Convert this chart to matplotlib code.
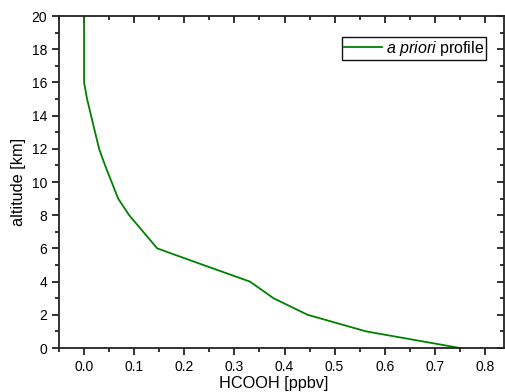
import matplotlib
matplotlib.use("Agg")
import matplotlib.pyplot as plt
from matplotlib.ticker import MultipleLocator

plt.rcParams['font.family'] = ['Liberation Sans', 'DejaVu Sans']
plt.rcParams['mathtext.fontset'] = 'custom'
plt.rcParams['mathtext.it'] = 'Liberation Sans:italic'
plt.rcParams['mathtext.rm'] = 'Liberation Sans'

# a priori profile
altitude = [0, 1, 2, 3, 4, 5, 6, 7, 8, 9, 10,
            11, 12, 13, 14, 15, 16, 17, 18, 19, 20]
hcooh = [0.750, 0.563, 0.446, 0.378, 0.331, 0.238, 0.146, 0.118, 0.090, 0.068, 0.055,
         0.042, 0.030, 0.022, 0.014, 0.006, 0.0, 0.0, 0.0, 0.0, 0.0]

fig = plt.figure(figsize=(5.05, 3.92), dpi=100)
ax = fig.add_axes([59 / 505, 44 / 392, 445 / 505, 332 / 392])

ax.plot(hcooh, altitude, color='#008000', lw=1.3, label=r'$\it{a\ priori}$ profile')

ax.set_xlim(-0.05, 0.838)
ax.set_ylim(0, 20)
ax.xaxis.set_major_locator(MultipleLocator(0.1))
ax.xaxis.set_minor_locator(MultipleLocator(0.05))
ax.yaxis.set_major_locator(MultipleLocator(2))
ax.yaxis.set_minor_locator(MultipleLocator(1))
ax.set_xticks([0.0, 0.1, 0.2, 0.3, 0.4, 0.5, 0.6, 0.7, 0.8])

ax.tick_params(which='both', direction='out', bottom=True, left=True,
               top=False, right=False, width=1.3, color='#222222', labelsize=10)
ax.tick_params(which='major', length=5)
ax.tick_params(which='minor', length=3)

# inward ticks on top and right
ax2 = ax.secondary_xaxis('top')
ax2.xaxis.set_major_locator(MultipleLocator(0.1))
ax2.xaxis.set_minor_locator(MultipleLocator(0.05))
ax2.tick_params(which='both', direction='in', labeltop=False, width=1.3, color='#222222')
ax2.tick_params(which='major', length=5)
ax2.tick_params(which='minor', length=3)
ay2 = ax.secondary_yaxis('right')
ay2.yaxis.set_major_locator(MultipleLocator(2))
ay2.yaxis.set_minor_locator(MultipleLocator(1))
ay2.tick_params(which='both', direction='in', labelright=False, width=1.3, color='#222222')
ay2.tick_params(which='major', length=5)
ay2.tick_params(which='minor', length=3)

for s in ax.spines.values():
    s.set_linewidth(1.3)
    s.set_color('#222222')
ax2.spines['top'].set_visible(False)
ay2.spines['right'].set_visible(False)

ax.set_xlabel('HCOOH [ppbv]', fontsize=11.7)
ax.xaxis.set_label_coords(0.482, -0.085)
ax.set_ylabel('altitude [km]', fontsize=11.7, labelpad=4)

leg = ax.legend(loc='upper right', bbox_to_anchor=(0.9596, 0.937), fontsize=11.5,
                fancybox=False, framealpha=1, edgecolor='#111111',
                handlelength=2.4, borderpad=0.12, handletextpad=0.25, borderaxespad=0)
leg.get_frame().set_linewidth(1.0)

fig.savefig('out.png', dpi=100)
